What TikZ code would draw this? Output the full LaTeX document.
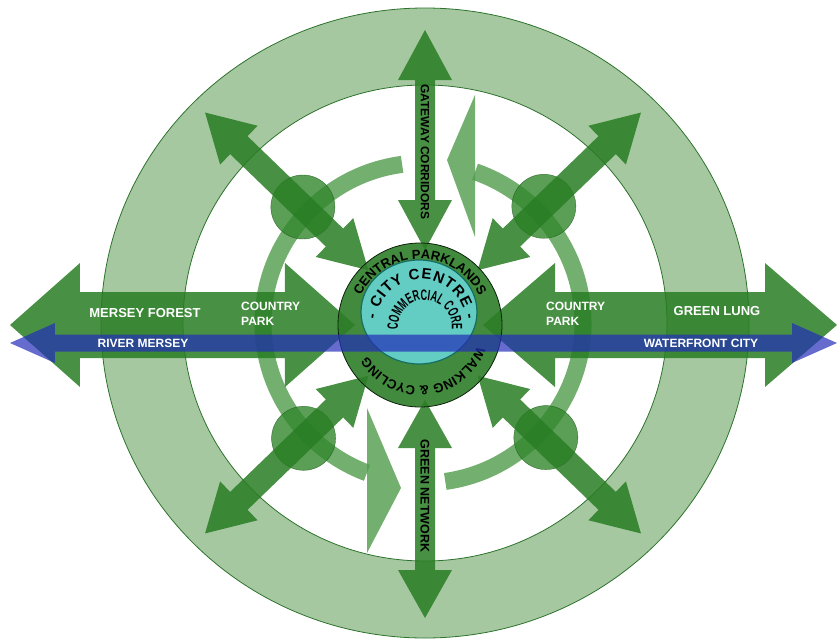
\documentclass[tikz,border=0pt]{standalone}
\usepackage{fontspec}
\setmainfont{Liberation Sans}
\usetikzlibrary{decorations.text,shapes.geometric}

\definecolor{beltfill}{RGB}{166,200,160}
\definecolor{beltline}{RGB}{45,115,45}
\definecolor{loopgreen}{RGB}{80,155,75}
\definecolor{arrowgreen}{RGB}{40,125,35}
\definecolor{spotgreen}{RGB}{50,135,45}
\definecolor{hubgreen}{RGB}{45,125,40}
\definecolor{corecyan}{RGB}{100,205,195}
\definecolor{coreline}{RGB}{20,110,100}
\definecolor{riverblue}{RGB}{35,45,185}

\tikzset{
  pics/dblarrow/.style n args={4}{code={
    % #1 half length, #2 shaft half width, #3 head half width, #4 head length
    \fill (-#1,0) -- (-#1+#4,#3) -- (-#1+#4,#2) -- (#1-#4,#2) -- (#1-#4,#3) -- (#1,0)
      -- (#1-#4,-#3) -- (#1-#4,-#2) -- (-#1+#4,-#2) -- (-#1+#4,-#3) -- cycle;
  }}
}

\begin{document}
\begin{tikzpicture}[x=1pt,y=1pt,
  fatarrow/.style={fill=arrowgreen,fill opacity=0.85},
  riverband/.style={fill=riverblue,fill opacity=0.7},
  loopline/.style={draw=loopgreen,draw opacity=0.8,line width=17pt},
  loophead/.style={fill=loopgreen,fill opacity=0.8},
  spot/.style={circle,minimum size=64pt,inner sep=0pt,fill=spotgreen,fill opacity=0.8,
    draw=arrowgreen!70!black,draw opacity=0.8},
  lbl/.style={text=white,font=\bfseries\fontsize{13}{15}\selectfont,inner sep=0pt},
  smalllbl/.style={lbl,font=\bfseries\fontsize{12}{15}\selectfont,align=left},
  vlbl/.style={text=black,font=\bfseries\fontsize{12}{14}\selectfont,inner sep=0pt,rotate=-90},
  ringtext/.style={decorate,decoration={text along path,text align=center,text={#1}}}
]
  \useasboundingbox (-423,-318) rectangle (414,323);

  % outer green belt
  \path[fill=beltfill,draw=beltline,line width=0.8pt,even odd rule]
    (2,0) ellipse [x radius=324,y radius=315]
    (2,0) ellipse [x radius=242,y radius=238];

  % curved loop arrows
  \draw[loopline] (97.5:160) arc [start angle=97.5,end angle=249.5,radius=160];
  \fill[loophead] (-56,-85) -- (-22,-165) -- (-56,-230) -- cycle;
  \draw[loopline] (-82:160) arc [start angle=-82,end angle=71,radius=160];
  \fill[loophead] (52,228) -- (24,163) -- (52,86) -- cycle;

  % local hubs
  \node[spot] (nw) at (136:167) {};
  \node[spot] (ne) at (44:168) {};
  \node[spot] (sw) at (224:166) {};
  \node[spot] (se) at (317:168) {};

  % corridors
  \pic[fatarrow] at (-240.5,-2) {dblarrow={172.5}{33}{62}{70}};
  \pic[fatarrow] at (237,-2) {dblarrow={177}{33}{62}{72}};
  \pic[fatarrow,rotate=90] at (2,183) {dblarrow={110}{10}{27}{50}};
  \pic[fatarrow,rotate=90] at (2,-186) {dblarrow={109}{10}{27}{48}};
  \foreach \a in {44,136,224,316}
    \pic[fatarrow,rotate=\a] at (\a:189.5) {dblarrow={113.5}{12.5}{27}{47}};

  % centre
  \node[circle,minimum size=164pt,inner sep=0pt,fill=hubgreen,fill opacity=0.9,
    draw=black!75!hubgreen,line width=0.8pt] (hub) at (-3,-2) {};
  \path[ringtext={|\bfseries\fontsize{13}{13}\selectfont|CENTRAL PARKLANDS},shift={(hub.center)}]
    (165:66) arc [start angle=165,end angle=15,radius=66];
  \path[ringtext={|\bfseries\fontsize{13}{13}\selectfont|WALKING {\&} CYCLING},shift={(hub.center)}]
    (-8:61) arc [start angle=-8,end angle=-161,radius=61];
  \node[ellipse,minimum width=116pt,minimum height=104pt,inner sep=0pt,fill=corecyan,
    draw=coreline,line width=1.2pt] (core) at (-4,11) {};
  \path[decorate,decoration={text along path,text align={fit to path},
      text={|\bfseries\fontsize{15}{15}\selectfont|- CITY CENTRE -}},shift={(-2,-1)}]
    (174:45) arc [start angle=174,end angle=6,radius=45];
  \path[ringtext={|\bfseries\fontsize{15}{15}\selectfont\addfontfeature{FakeStretch=0.6}|COMMERCIAL CORE},
      shift={(2,-4)}]
    (194:27) arc [start angle=194,end angle=-14,radius=27];

  % river
  \pic[riverband] at (0.5,-20) {dblarrow={413.5}{8.5}{20}{45}};

  \node[lbl] (forest) at (-278,10) {MERSEY FOREST};
  \node[smalllbl,anchor=west] (parkwest) at (-182,9) {COUNTRY\\PARK};
  \node[smalllbl] (river) at (-280,-20) {RIVER MERSEY};
  \node[smalllbl,anchor=west] (parkeast) at (123,9) {COUNTRY\\PARK};
  \node[lbl] (lung) at (294,12) {GREEN LUNG};
  \node[smalllbl] (waterfront) at (278,-20) {WATERFRONT CITY};
  \node[vlbl] (gateway) at (2,171) {GATEWAY CORRIDORS};
  \node[vlbl,font=\bfseries\fontsize{12.5}{14}\selectfont] (network) at (2,-173) {GREEN NETWORK};
\end{tikzpicture}
\end{document}
